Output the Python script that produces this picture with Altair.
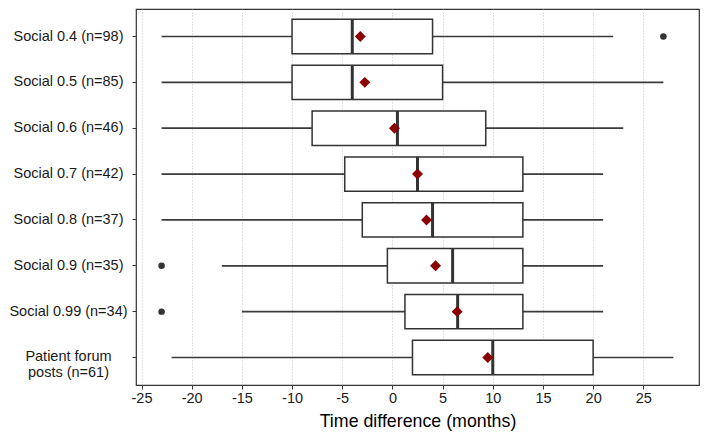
import altair as alt
import pandas as pd

categories = ["Social 0.4 (n=98)", "Social 0.5 (n=85)", "Social 0.6 (n=46)",
              "Social 0.7 (n=42)", "Social 0.8 (n=37)", "Social 0.9 (n=35)",
              "Social 0.99 (n=34)", "Patient forum\nposts (n=61)"]
whisker_low = [-23, -23, -23, -23, -23, -17, -15, -22]
q1 = [-10, -10, -8, -4.75, -3, -0.5, 1.25, 2]
median = [-4, -4, 0.5, 2.5, 4, 6, 6.5, 10]
q3 = [4, 5, 9.3, 13, 13, 13, 13, 20]
whisker_high = [22, 27, 23, 21, 21, 21, 21, 28]
means = [-3.2, -2.75, 0.2, 2.5, 3.4, 4.3, 6.45, 9.5]
outlier_cat = ["Social 0.4 (n=98)", "Social 0.9 (n=35)", "Social 0.99 (n=34)"]
outlier_val = [27, -23, -23]
x_ticks = [-25, -20, -15, -10, -5, 0, 5, 10, 15, 20, 25]

df = pd.DataFrame({"cat": categories, "low": whisker_low, "q1": q1, "median": median,
                   "q3": q3, "high": whisker_high, "mean": means})
df_out = pd.DataFrame({"cat": outlier_cat, "val": outlier_val})

W, H = 563, 376
step = H / 8.2
bw = step * 0.75

FONT = "Liberation Sans"
xtitle = "Time difference (months)"
xscale = alt.Scale(domain=[-25.55, 30.55], nice=False, zero=False)
xaxis = alt.Axis(values=x_ticks, grid=True, gridDash=[1, 2], gridColor="#b5b5b5",
                 gridWidth=0.8, domain=False, ticks=True, tickSize=4, tickColor="#333333",
                 labelFontSize=14.5, labelColor="#1a1a1a", labelFont=FONT, labelPadding=2,
                 labelExpr="toString(datum.value)",
                 titleFontSize=17.8, titleFont=FONT, titleFontWeight="normal",
                 titleColor="#000000", titlePadding=8)
yscale = alt.Scale(type="band", paddingInner=0.25, paddingOuter=0.225)
yaxis = alt.Axis(grid=False, domain=False, ticks=True, tickSize=4, tickColor="#333333",
                 labelAlign="center", labelPadding=64, labelFontSize=14.5,
                 labelColor="#1a1a1a", labelFont=FONT, labelLineHeight=15.5,
                 labelExpr="split(datum.label, '\\n')", labelLimit=300)

y_enc = alt.Y("cat:N", sort=categories, scale=yscale, axis=yaxis, title=None)

base = alt.Chart(df)

whiskers = base.mark_rule(color="#3a3a3a", strokeWidth=1.7).encode(
    x=alt.X("low:Q", scale=xscale, axis=xaxis, title=xtitle),
    x2="high:Q",
    y=y_enc,
)
boxes = base.mark_bar(fill="white", stroke="#333333", strokeWidth=1.5).encode(
    x=alt.X("q1:Q", scale=xscale, axis=xaxis, title=xtitle),
    x2="q3:Q",
    y=y_enc,
)
medians = base.mark_tick(color="#333333", thickness=3, size=bw, opacity=1).encode(
    x=alt.X("median:Q", scale=xscale, axis=xaxis, title=xtitle),
    y=y_enc,
)
mean_pts = base.mark_point(shape="diamond", filled=True, color="#8B0000", size=120,
                           opacity=1).encode(
    x=alt.X("mean:Q", scale=xscale, axis=xaxis, title=xtitle),
    y=y_enc,
)
outliers = alt.Chart(df_out).mark_point(shape="circle", filled=True, color="#333333",
                                        size=42, opacity=1).encode(
    x=alt.X("val:Q", scale=xscale, axis=xaxis, title=xtitle),
    y=y_enc,
)

chart = alt.layer(whiskers, boxes, medians, outliers, mean_pts).properties(
    width=W, height=H,
    padding={"left": 0, "top": 1, "right": 1, "bottom": 0},
    background="white",
).configure_view(stroke="#333333", strokeWidth=1.2)

chart.save("out.html", embed_options={"renderer": "svg", "actions": False})
